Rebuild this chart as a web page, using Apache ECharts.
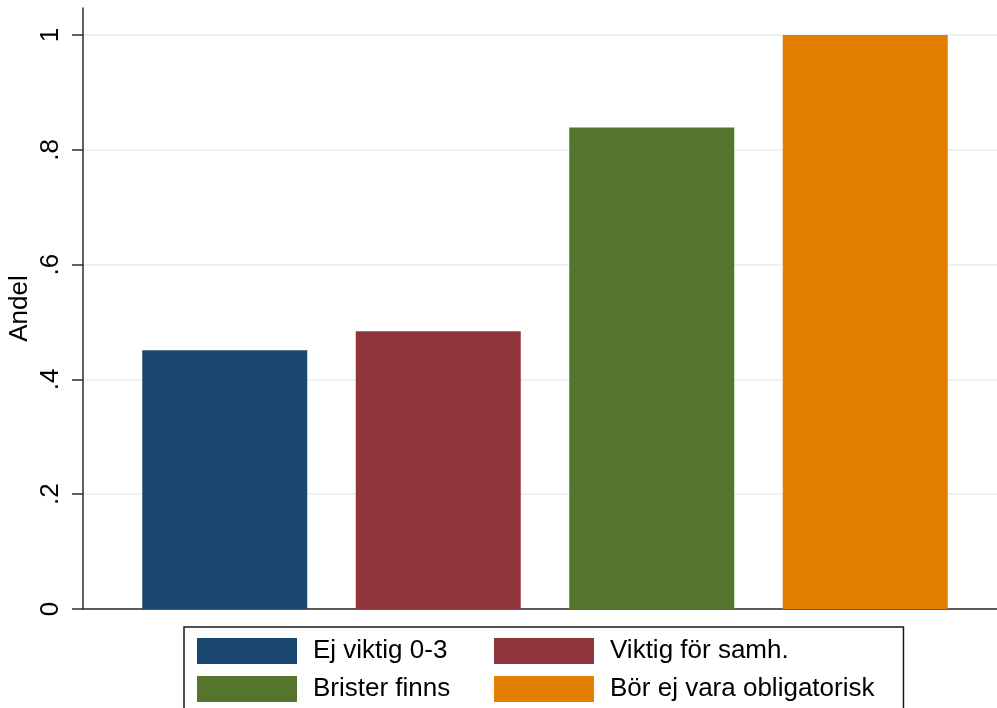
<!DOCTYPE html>
<html>
<head>
<meta charset="utf-8">
<script src="https://cdn.jsdelivr.net/npm/echarts@6/dist/echarts.min.js"></script>
<style>
html,body{margin:0;padding:0;background:#fff;}
#chart{width:997px;height:708px;}
</style>
</head>
<body>
<div id="chart"></div>
<script>
var categories = ['Ej viktig 0-3', 'Viktig för samh.', 'Brister finns', 'Bör ej vara obligatorisk'];
var values = [0.451, 0.484, 0.839, 1.0];
var colors = ['#1a476f', '#90353b', '#55752f', '#e37e00'];
var yTicks = [0, 0.2, 0.4, 0.6, 0.8, 1];

var FONT = '"Liberation Sans", Arial, sans-serif';
var chart = echarts.init(document.getElementById('chart'), null, {renderer: 'canvas'});

function tickLabel(v) {
  var r = Math.round(v * 10) / 10;
  if (r === 0) return '0';
  if (r === 1) return '1';
  return String(r).replace(/^0/, '');
}

var series = categories.map(function (name, i) {
  return {
    name: name,
    type: 'bar',
    xAxisIndex: 2,
    yAxisIndex: 2,
    stack: 'all',
    barWidth: 165,
    itemStyle: {color: colors[i]},
    data: categories.map(function (c, j) { return j === i ? values[i] : '-'; }),
    animation: false
  };
});

var hidden = {axisLine: {show: false}, axisTick: {show: false}, axisLabel: {show: false}, splitLine: {show: false}};

var option = {
  backgroundColor: '#ffffff',
  animation: false,
  textStyle: {fontFamily: FONT},
  grid: [
    {left: 83, right: 0, top: 8, bottom: 99, containLabel: false, outerBoundsMode: 'none'},
    {left: 83, right: 0, top: 35, bottom: 99, containLabel: false, outerBoundsMode: 'none'},
    {left: 118, right: 25, top: 35, bottom: 99, containLabel: false, outerBoundsMode: 'none'}
  ],
  xAxis: [
    {
      gridIndex: 0, type: 'value', min: 0, max: 1,
      axisLine: {show: true, onZero: false, lineStyle: {color: '#2b2b2b', width: 1.5}},
      axisTick: {show: false}, axisLabel: {show: false}, splitLine: {show: false}
    },
    Object.assign({gridIndex: 1, type: 'value', min: 0, max: 1}, hidden),
    Object.assign({gridIndex: 2, type: 'category', data: categories}, hidden)
  ],
  yAxis: [
    {
      gridIndex: 0, type: 'value', min: 0, max: 1,
      name: 'Andel', nameLocation: 'middle', nameGap: 50,
      nameTextStyle: {fontSize: 26, color: '#000', fontFamily: FONT},
      axisLine: {show: true, onZero: false, lineStyle: {color: '#2b2b2b', width: 1.5}},
      axisTick: {show: false}, axisLabel: {show: false}, splitLine: {show: false}
    },
    {
      gridIndex: 1, type: 'value', min: yTicks[0], max: yTicks[yTicks.length - 1], interval: 0.2,
      axisLine: {show: false},
      axisTick: {show: true, length: 11, lineStyle: {color: '#2b2b2b', width: 1.5}},
      axisLabel: {
        show: true, rotate: 90, margin: 19, fontSize: 26, color: '#000', fontFamily: FONT,
        formatter: tickLabel
      },
      splitLine: {show: true, lineStyle: {color: '#eaf2f3', width: 2}}
    },
    Object.assign({gridIndex: 2, type: 'value', min: yTicks[0], max: yTicks[yTicks.length - 1]}, hidden)
  ],
  legend: {
    data: categories,
    left: 184,
    top: 627,
    width: 700,
    orient: 'horizontal',
    icon: 'rect',
    itemWidth: 100,
    itemHeight: 26,
    itemGap: 12,
    padding: [11, 29, 10, 13],
    borderColor: '#1a1a1a',
    borderWidth: 1.5,
    backgroundColor: '#fff',
    selectedMode: false,
    formatter: function (name) {
      var idx = categories.indexOf(name);
      return (idx % 2 === 0 ? '{a|' : '{b|') + name + '}';
    },
    textStyle: {
      fontSize: 26, color: '#000', fontFamily: FONT,
      rich: {
        a: {fontSize: 26, color: '#000', fontFamily: FONT, width: 169, padding: [0, 0, 0, 11], lineHeight: 26},
        b: {fontSize: 26, color: '#000', fontFamily: FONT, padding: [0, 0, 0, 11], lineHeight: 26}
      }
    }
  },
  series: series
};

chart.setOption(option);
</script>
</body>
</html>
